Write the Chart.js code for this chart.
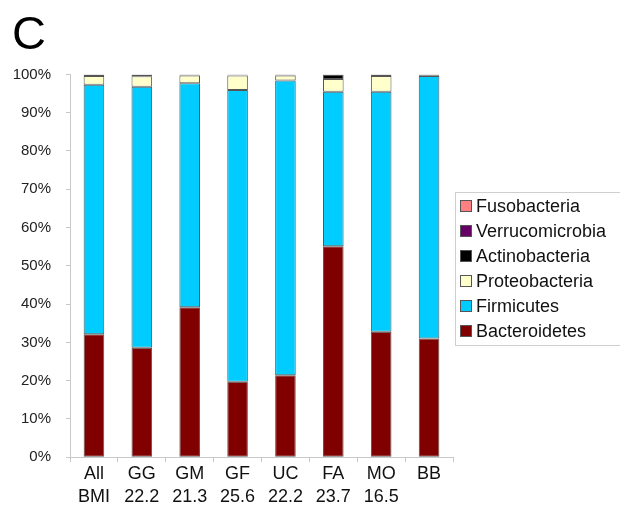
<!DOCTYPE html>
<html>
<head>
<meta charset="utf-8">
<script src="https://cdn.jsdelivr.net/npm/chart.js@4.4.1/dist/chart.umd.min.js"></script>
<style>
  html, body { margin: 0; padding: 0; background: #fff; }
  #wrap { width: 620px; height: 509px; }
</style>
</head>
<body>
<div id="wrap"><canvas id="chart"></canvas></div>
<script>
const groups = ['All', 'GG', 'GM', 'GF', 'UC', 'FA', 'MO', 'BB'];
const bmi = ['BMI', '22.2', '21.3', '25.6', '22.2', '23.7', '16.5', ''];

const bacteroidetes   = [32.1, 28.6, 39.2, 19.7, 21.4, 55.1, 32.8, 31.0];
const firmicutes      = [65.2, 68.2, 58.5, 76.2, 77.0, 40.4, 62.7, 68.6];
const proteobacteria  = [2.3, 2.7, 2.0, 3.8, 1.3, 3.3, 4.1, 0.2];
const actinobacteria  = [0.4, 0.5, 0.3, 0.1, 0.3, 1.2, 0.4, 0.2];
const verrucomicrobia = [0, 0, 0, 0.2, 0, 0, 0, 0];
const fusobacteria    = [0, 0, 0, 0, 0, 0, 0, 0];

const yTicks = [0, 10, 20, 30, 40, 50, 60, 70, 80, 90, 100];

const series = [
  {label: 'Bacteroidetes', data: bacteroidetes, color: '#800000'},
  {label: 'Firmicutes', data: firmicutes, color: '#00CCFF'},
  {label: 'Proteobacteria', data: proteobacteria, color: '#FFFFCC'},
  {label: 'Actinobacteria', data: actinobacteria, color: '#000000'},
  {label: 'Verrucomicrobia', data: verrucomicrobia, color: '#660066'},
  {label: 'Fusobacteria', data: fusobacteria, color: '#FF8080'},
];

// boxed legend to the right of the plot, top entry = last dataset
const boxedLegend = {
  id: 'boxedLegend',
  afterDraw(chart) {
    const ctx = chart.ctx;
    const area = chart.chartArea;
    const sets = chart.data.datasets.slice().reverse();
    const rowH = 25;
    const h = sets.length * rowH + 3;
    const left = area.right + 2;
    const top = Math.round((area.top + area.bottom) / 2 - h / 2) + 3;

    ctx.save();
    ctx.strokeStyle = '#cfcfcf';
    ctx.lineWidth = 1;
    ctx.strokeRect(left + 0.5, top + 0.5, 200, h);

    ctx.font = '18px "Liberation Sans", Arial, sans-serif';
    ctx.textBaseline = 'middle';
    sets.forEach((ds, i) => {
      const cy = top + 14 + i * rowH;
      ctx.fillStyle = ds.backgroundColor;
      ctx.fillRect(left + 5.5, cy - 5.5, 11, 11);
      ctx.strokeStyle = '#555';
      ctx.strokeRect(left + 5.5, cy - 5.5, 11, 11);
      ctx.fillStyle = '#111';
      ctx.fillText(ds.label, left + 21, cy + 1);
    });
    ctx.restore();
  }
};

const labels = groups.map((g, i) => [g, bmi[i]]);

new Chart(document.getElementById('chart'), {
  type: 'bar',
  data: {
    labels: labels,
    datasets: series.map(s => ({
      label: s.label,
      data: s.data,
      backgroundColor: s.color,
      borderColor: '#555',
      borderWidth: 1,
      borderSkipped: false,
      barPercentage: 0.43,
      categoryPercentage: 1.0,
    }))
  },
  options: {
    responsive: true,
    maintainAspectRatio: false,
    animation: false,
    devicePixelRatio: 1,
    layout: {padding: {left: 12, right: 167, top: 0, bottom: 0}},
    plugins: {
      title: {
        display: true,
        text: 'C',
        align: 'start',
        color: '#000',
        font: {family: 'Liberation Sans', size: 47, weight: 'normal', lineHeight: 1.2},
        padding: {top: 8, bottom: 10}
      },
      legend: {display: false},
      tooltip: {enabled: false}
    },
    scales: {
      x: {
        stacked: true,
        border: {color: '#c8c8c8'},
        grid: {offset: true, drawOnChartArea: false, color: '#c8c8c8', tickLength: 5},
        ticks: {
          color: '#111',
          font: {family: 'Liberation Sans', size: 18, lineHeight: 1.3},
          maxRotation: 0,
          padding: 0
        }
      },
      y: {
        stacked: true,
        min: 0,
        max: 100,
        afterBuildTicks: axis => { axis.ticks = yTicks.map(v => ({value: v})); },
        afterFit: axis => { axis.width = 58; },
        border: {color: '#c8c8c8'},
        grid: {drawOnChartArea: false, color: '#c8c8c8', tickLength: 4},
        ticks: {
          color: '#222',
          font: {family: 'Liberation Sans', size: 15},
          padding: 15,
          callback: v => v + '%'
        }
      }
    }
  },
  plugins: [boxedLegend]
});
</script>
</body>
</html>
